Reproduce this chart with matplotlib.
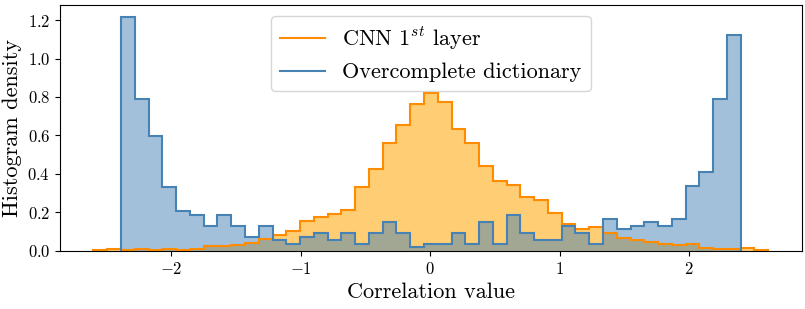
import numpy as np
import matplotlib
matplotlib.use('Agg')
import matplotlib.pyplot as plt

plt.rcParams['font.family'] = 'serif'
plt.rcParams['font.serif'] = ['cmr10']
plt.rcParams['mathtext.fontset'] = 'cm'
plt.rcParams['axes.formatter.use_mathtext'] = True

# histogram densities (45 bins for the dictionary,
# 49 bins for the CNN, same bin width, CNN goes two bins further each side)
dict_lo, dict_hi = -2.39, 2.40
dict_density = [1.217, 0.788, 0.599, 0.334, 0.208, 0.187, 0.130, 0.185, 0.130,
                0.074, 0.130, 0.057, 0.038, 0.074, 0.093, 0.055, 0.093, 0.038,
                0.093, 0.149, 0.093, 0.019, 0.038, 0.038, 0.093, 0.038, 0.149,
                0.038, 0.187, 0.093, 0.055, 0.055, 0.130, 0.095, 0.036, 0.168,
                0.113, 0.130, 0.152, 0.130, 0.168, 0.338, 0.412, 0.788, 1.124]

cnn_density = [0.004, 0.009,
               0.005, 0.010, 0.005, 0.012, 0.007, 0.010, 0.024, 0.028, 0.031,
               0.040, 0.061, 0.081, 0.104, 0.154, 0.177, 0.192, 0.213, 0.332,
               0.428, 0.561, 0.653, 0.764, 0.820, 0.774, 0.636, 0.561, 0.442,
               0.365, 0.341, 0.282, 0.265, 0.198, 0.140, 0.114, 0.126, 0.092,
               0.068, 0.057, 0.045, 0.036, 0.030, 0.034, 0.016, 0.008, 0.012,
               0.016, 0.003]

bw = (dict_hi - dict_lo) / len(dict_density)
dict_edges = np.linspace(dict_lo, dict_hi, len(dict_density) + 1)
cnn_edges = np.linspace(dict_lo - 2 * bw, dict_hi + 2 * bw, len(cnn_density) + 1)

c_orange = '#FF8C00'
c_orange_fill = '#FFA500'
c_blue = '#4682B4'

fig = plt.figure(figsize=(8.05, 3.09), dpi=100)
ax = fig.add_axes([0.0745, 0.188, 0.9215, 0.797])

# fills first, outlines on top
ax.stairs(cnn_density, cnn_edges, fill=True, color=c_orange_fill, alpha=0.55, lw=0)
ax.stairs(dict_density, dict_edges, fill=True, color=c_blue, alpha=0.5, lw=0)
ax.stairs(cnn_density, cnn_edges, color=c_orange, lw=1.5, label=r'CNN $1^{st}$ layer')
ax.stairs(dict_density, dict_edges, color=c_blue, lw=1.5, label='Overcomplete dictionary')

ax.set_xlim(-2.862, 2.872)
ax.set_ylim(0, 1.28)
ax.set_xticks([-2, -1, 0, 1, 2])
ax.set_yticks([0.0, 0.2, 0.4, 0.6, 0.8, 1.0, 1.2])
ax.tick_params(labelsize=12)
ax.set_xlabel('Correlation value', fontsize=16)
ax.set_ylabel('Histogram density', fontsize=16)

ax.legend(loc='upper center', fontsize=16, handlelength=2.0)

fig.savefig('out.png', dpi=100)
